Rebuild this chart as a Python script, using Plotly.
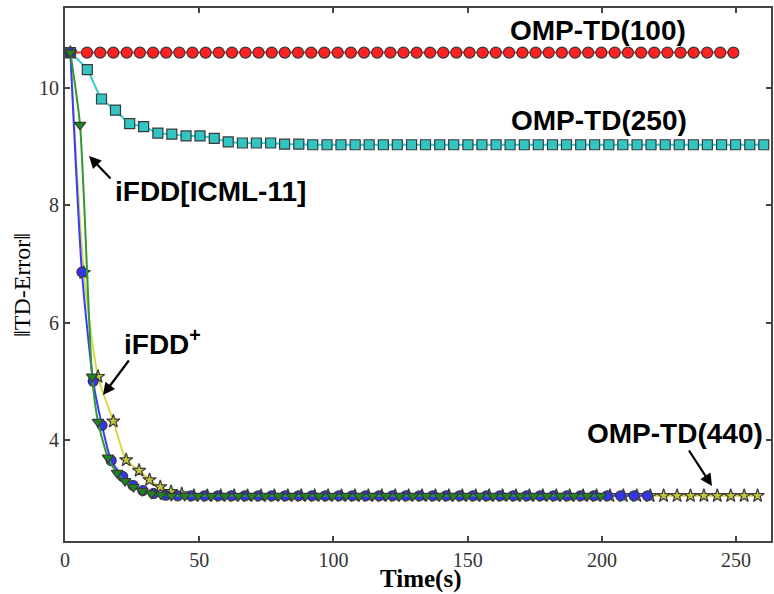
import plotly.graph_objects as go

# ---------------- data ----------------
omp100_x = [2, 8.2, 13.1, 18, 23, 27.9, 32.8, 37.7, 42.6, 47.5, 52.4, 57.3, 62.2, 67.2, 72.1, 77, 81.9,
            86.8, 91.7, 96.6, 101.6, 106.5, 111.4, 116.3, 121.2, 126.1, 131, 136, 140.9, 145.8, 150.7,
            155.6, 160.5, 165.4, 170.4, 175.3, 180.2, 185.1, 190, 194.9, 199.8, 204.8, 209.7, 214.6,
            219.5, 224.4, 229.3, 234.2, 239.2, 244.1, 249]
omp100_y = [10.6, 10.6, 10.6, 10.6, 10.6, 10.6, 10.6, 10.6, 10.6, 10.6, 10.6, 10.6, 10.6, 10.6, 10.6,
            10.6, 10.6, 10.6, 10.6, 10.6, 10.6, 10.6, 10.6, 10.6, 10.6, 10.6, 10.6, 10.6, 10.6, 10.6,
            10.6, 10.6, 10.6, 10.6, 10.6, 10.6, 10.6, 10.6, 10.6, 10.6, 10.6, 10.6, 10.6, 10.6, 10.6,
            10.6, 10.6, 10.6, 10.6, 10.6, 10.6]

omp250_x = [2, 8.3, 13.6, 18.8, 24.1, 29.3, 34.6, 39.8, 45.1, 50.3, 55.6, 60.8, 66.1, 71.3, 76.6, 81.8,
            87.1, 92.3, 97.6, 102.8, 108.1, 113.3, 118.6, 123.8, 129.1, 134.3, 139.6, 144.8, 150.1,
            155.3, 160.6, 165.8, 171.1, 176.3, 181.6, 186.8, 192.1, 197.3, 202.6, 207.8, 213.1, 218.3,
            223.6, 228.8, 234.1, 239.3, 244.6, 249.8, 255.1, 260.3]
omp250_y = [10.6, 10.31, 9.81, 9.62, 9.39, 9.34, 9.23, 9.21, 9.18, 9.18, 9.14, 9.08, 9.06, 9.06, 9.06,
            9.04, 9.04, 9.03, 9.03, 9.03, 9.03, 9.03, 9.03, 9.03, 9.03, 9.03, 9.03, 9.03, 9.03, 9.03,
            9.03, 9.03, 9.03, 9.03, 9.03, 9.03, 9.03, 9.03, 9.03, 9.03, 9.03, 9.03, 9.03, 9.03, 9.03,
            9.03, 9.03, 9.03, 9.03, 9.03]

icml_x = [2, 5.6, 10.1, 12.3, 16, 19.4, 22.4, 25.5, 28.8, 32.2, 35.8, 39.6, 44.6, 49.6, 54.6, 59.6,
          64.6, 69.6, 74.6, 79.6, 84.6, 89.6, 94.6, 99.6, 104.6, 109.6, 114.6, 119.6, 124.6, 129.6,
          134.6, 139.6, 144.6, 149.6, 154.6, 159.6, 164.6, 169.6, 174.6, 179.6, 184.6, 189.6, 194.6,
          199.6]
icml_y = [10.6, 9.37, 5.08, 4.31, 3.7, 3.44, 3.3, 3.2, 3.13, 3.09, 3.07, 3.05, 3.05, 3.05, 3.05, 3.05,
          3.05, 3.05, 3.05, 3.05, 3.05, 3.05, 3.05, 3.05, 3.05, 3.05, 3.05, 3.05, 3.05, 3.05, 3.05,
          3.05, 3.05, 3.05, 3.05, 3.05, 3.05, 3.05, 3.05, 3.05, 3.05, 3.05, 3.05, 3.05]

ifddp_x = [2, 6.3, 10.5, 13.8, 17.2, 21.5, 25.3, 29, 33, 37.5, 42, 47, 52, 57, 62, 67, 72, 77, 82, 87,
           92, 97, 102, 107, 112, 117, 122, 127, 132, 137, 142, 147, 152, 157, 162, 167, 172, 177,
           182, 187, 192, 197, 202, 207, 212, 217]
ifddp_y = [10.6, 6.86, 5.0, 4.25, 3.65, 3.38, 3.23, 3.14, 3.09, 3.06, 3.05, 3.05, 3.05, 3.05, 3.05,
           3.05, 3.05, 3.05, 3.05, 3.05, 3.05, 3.05, 3.05, 3.05, 3.05, 3.05, 3.05, 3.05, 3.05, 3.05,
           3.05, 3.05, 3.05, 3.05, 3.05, 3.05, 3.05, 3.05, 3.05, 3.05, 3.05, 3.05, 3.05, 3.05, 3.05,
           3.05]

omp440_x = [2, 7, 12.3, 18, 22.8, 27.6, 31.5, 35.5, 39.5, 43.5, 48, 53, 58, 63, 68, 73, 78, 83, 88, 93,
            98, 103, 108, 113, 118, 123, 128, 133, 138, 143, 148, 153, 158, 163, 168, 173, 178, 183,
            188, 193, 198, 203, 208, 213, 218, 223, 228, 233, 238, 243, 248, 253, 258]
omp440_y = [10.6, 6.85, 5.08, 4.32, 3.66, 3.48, 3.32, 3.2, 3.12, 3.08, 3.05, 3.05, 3.05, 3.05, 3.05,
            3.05, 3.05, 3.05, 3.05, 3.05, 3.05, 3.05, 3.05, 3.05, 3.05, 3.05, 3.05, 3.05, 3.05, 3.05,
            3.05, 3.05, 3.05, 3.05, 3.05, 3.05, 3.05, 3.05, 3.05, 3.05, 3.05, 3.05, 3.05, 3.05, 3.05,
            3.05, 3.05, 3.05, 3.05, 3.05, 3.05, 3.05, 3.05]

x_ticks = [0, 50, 100, 150, 200, 250]
y_ticks = [4, 6, 8, 10]

# ---------------- figure ----------------
fig = go.Figure()

def add(xs, ys, line_color, fill, symbol, size, name):
    fig.add_trace(go.Scatter(
        x=xs, y=ys, mode="lines+markers", name=name,
        line=dict(color=line_color, width=2, shape="spline", smoothing=0.6),
        marker=dict(symbol=symbol, size=size, color=fill,
                    line=dict(color="#3a3a3a", width=1.2)),
        showlegend=False,
    ))

add(omp100_x, omp100_y, "#ff2a2a", "#ff2020", "circle", 11, "OMP-TD(100)")
add(omp250_x, omp250_y, "#33cccc", "#33c4c4", "square", 10, "OMP-TD(250)")
add(omp440_x, omp440_y, "#d8d84a", "#c8c83a", "star", 10, "OMP-TD(440)")
add(ifddp_x, ifddp_y, "#3b3bff", "#3535e8", "circle", 10, "iFDD+")
add(icml_x, icml_y, "#2f9a2f", "#1f861f", "triangle-down", 10, "iFDD[ICML-11]")

W, H = 774, 594
L, R, T, B = 65, 3, 8, 53

def px(xp):
    return (xp - L) / (W - L - R)

def py(yp):
    return 1 - (yp - T) / (H - T - B)

label_font = dict(family="Liberation Sans, Arial, sans-serif", size=28, color="black")
annos = [
    dict(x=598, y=30, text="<b>OMP-TD(100)</b>"),
    dict(x=599, y=121, text="<b>OMP-TD(250)</b>"),
    dict(x=210, y=192, text="<b>iFDD[ICML-11]</b>"),
    dict(x=162, y=342, text="<b>iFDD<sup>+</sup></b>"),
    dict(x=675, y=433, text="<b>OMP-TD(440)</b>"),
]
for a in annos:
    fig.add_annotation(xref="paper", yref="paper", x=px(a["x"]), y=py(a["y"]), text=a["text"],
                       showarrow=False, font=label_font, xanchor="center", yanchor="middle")

arrows = [
    # head (px), tail (px)
    ((89, 156), (112, 180)),
    ((103, 395), (130, 359)),
    ((712, 486), (688, 449)),
]
for (hx, hy), (tx, ty) in arrows:
    fig.add_annotation(xref="paper", yref="paper", x=px(hx), y=py(hy), text="",
                       showarrow=True, arrowhead=2, arrowsize=1.1, arrowwidth=2.2,
                       arrowcolor="black", ax=tx - hx, ay=ty - hy)

# axis titles
fig.add_annotation(xref="paper", yref="paper", x=px(420), y=py(579), text="<b>Time(s)</b>",
                   showarrow=False, xanchor="center", yanchor="middle",
                   font=dict(family="Liberation Serif, Times New Roman, serif", size=25, color="black"))
fig.add_annotation(xref="paper", yref="paper", x=px(22), y=py(285), text="‖TD-Error‖",
                   showarrow=False, textangle=-90, xanchor="center", yanchor="middle",
                   font=dict(family="Liberation Serif, Times New Roman, serif", size=24, color="black"))

axis_common = dict(
    showgrid=False, zeroline=False, showline=True, linecolor="#444", linewidth=2,
    mirror="ticks", ticks="inside", ticklen=5, tickwidth=2, tickcolor="#444", automargin=False,
    tickfont=dict(family="Liberation Serif, Times New Roman, serif", size=20, color="#333"),
)

fig.update_layout(
    width=W, height=H,
    margin=dict(l=L, r=R, t=T, b=B, autoexpand=False),
    paper_bgcolor="white", plot_bgcolor="white",
    xaxis=dict(range=[0, 263], tickvals=x_ticks, **axis_common),
    yaxis=dict(range=[2.28, 11.36], tickvals=y_ticks, **axis_common),
)

fig.write_html("out.html", config={"displayModeBar": False},
               post_script="document.body.style.margin='0';document.body.style.overflow='hidden';")
